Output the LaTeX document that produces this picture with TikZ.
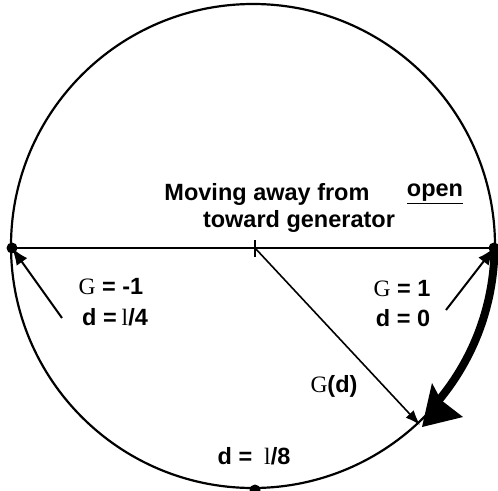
\documentclass[tikz,border=0pt]{standalone}
\usepackage{fontspec}
\setmainfont{Liberation Sans}
\newfontfamily\symf{Liberation Serif}
\usetikzlibrary{arrows.meta}
\begin{document}
\begin{tikzpicture}[x=1pt,y=1pt,
  lbl/.style={font=\fontsize{23.5}{26}\selectfont\bfseries, inner sep=0pt, align=center},
  ring/.style={line width=2pt},
  ptr/.style={line width=2pt,-{Latex[length=17pt,width=13pt]}},
  dot/.style={circle, fill=black, inner sep=0pt, minimum size=11pt}]
\useasboundingbox (0,0) rectangle (498,-490);
\coordinate (O) at (253,-246);
% circle outline as a filled ring
\fill[even odd rule] (O) circle (243.1) (O) circle (240.9);
\node[dot] (L) at (12,-248) {};
\node[dot] (R) at (494,-248) {};
\node[dot] (B) at (255,-490) {};
\coordinate (T) at (255,-248);
\draw[ring] (L.center) -- (R.center);
\draw[ring] (255,-240) -- (255,-257);
\coordinate (Q) at (420,-425);
\draw[line width=1.6pt,-{Latex[length=15pt,width=11pt]}] (T) -- (Q);
% thick arrow along the circle (filled shapes)
\fill ([shift={(O)}]-1:245.5) arc[start angle=-1, end angle=-39.5, radius=245.5]
  -- ([shift={(O)}]-39.5:237.5) arc[start angle=-39.5, end angle=-1, radius=237.5] -- cycle;
\fill (422,-427) -- (432,-383) -- (441,-400) -- (463,-417) -- cycle;
\node[lbl] (mv) at (267,-194) {Moving away from};
\node[lbl] (tg) at (299,-221) {toward generator};
\node[lbl] (op) at (435,-194) {\underline{open}};
\node[lbl] (gm) at (111,-287) {{\symf\mdseries G} = -1};
\node[lbl] (dl) at (115,-317) {d =\hspace{5pt}{\symf\mdseries l}/4};
\node[lbl] (g1) at (402,-289) {{\symf\mdseries G} = 1};
\node[lbl] (d0) at (403,-318) {d = 0};
\node[lbl] (gd) at (334,-386) {{\symf\mdseries G}(d)};
\node[lbl] (d8) at (254,-456) {d =\hspace{12pt}{\symf\mdseries l}/8};
\coordinate (la) at (62,-318);
\coordinate (ra) at (446,-310);
\draw[ptr] (la) -- (L.center);
\draw[ptr] (ra) -- (R.center);
\end{tikzpicture}
\end{document}
